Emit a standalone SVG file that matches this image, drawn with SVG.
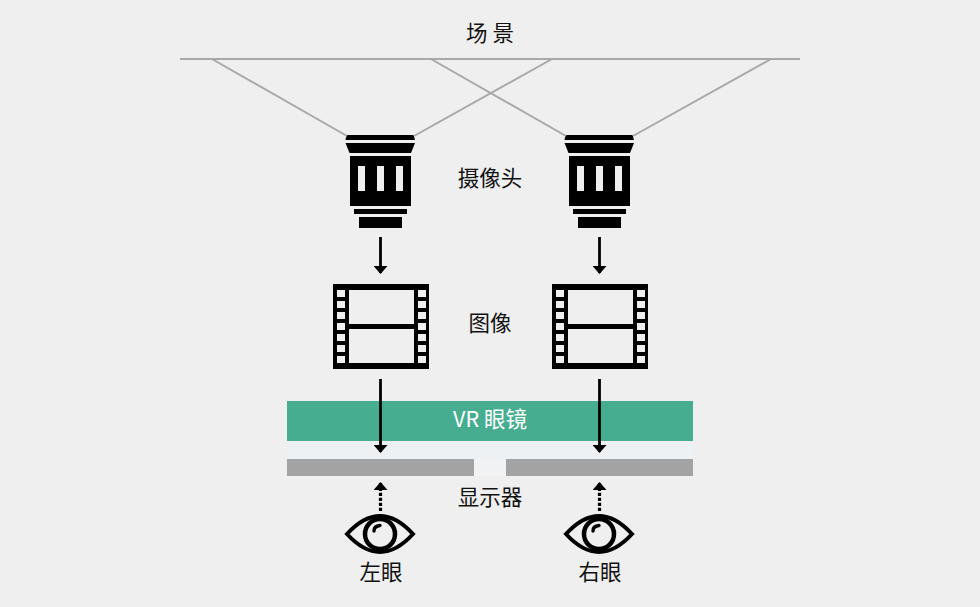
<svg xmlns="http://www.w3.org/2000/svg" xmlns:xlink="http://www.w3.org/1999/xlink" width="980" height="607" viewBox="0 0 980 607">
<style>
text{font-family:"Noto Sans CJK SC","Liberation Sans",sans-serif;font-size:21.500px;fill:#111;text-anchor:middle}
.ray{stroke:#a8a8a8;stroke-width:2;fill:none}
.arr{stroke:#000;stroke-width:2.800;fill:none;marker-end:url(#ah)}
.dot{stroke:#000;stroke-width:3.200;stroke-dasharray:3.300 1.700;fill:none;marker-end:url(#ah)}
</style>
<defs>
<g id="cam">
<path d="M-33.500 135H33.500L35 140H-34.500Z"/>
<path d="M-34.500 143H35L31 153H-30.500Z"/>
<path fill-rule="evenodd" d="M-30 156H31V206H-30ZM-22 166V191H-15V166ZM-3 166V191H4V166ZM16 166V191H23V166Z"/>
<rect x="-26" y="209" width="53" height="5"/>
<rect x="-21" y="217" width="43" height="11"/>
</g>
<g id="film">
<path fill-rule="evenodd" d="M-47 284H49V369H-47ZM-31 290V324H34V290ZM-31 329V363H34V329ZM-43 290V297H-35V290ZM-43 301V308H-35V301ZM-43 312V319H-35V312ZM-43 323V330H-35V323ZM-43 334V341H-35V334ZM-43 345V352H-35V345ZM-43 356V363H-35V356ZM38 290V297H46V290ZM38 301V308H46V301ZM38 312V319H46V312ZM38 323V330H46V323ZM38 334V341H46V334ZM38 345V352H46V345ZM38 356V363H46V356Z"/>
</g>
<g id="eye">
<path d="M-33 0C-22 -12 -11 -18 0 -18C11 -18 22 -12 33 0C22 12 11 18 0 18C-11 18 -22 12 -33 0Z" fill="none" stroke="#000" stroke-width="4"/>
<circle r="15" fill="none" stroke="#000" stroke-width="4.500"/>
<path d="M-6 -3Q-6 -8 0 -8.500" fill="none" stroke="#000" stroke-width="3.400" stroke-linecap="round"/>
</g>
<marker id="ah" viewBox="0 0 8 14" refX="7" refY="7" markerWidth="8" markerHeight="14" markerUnits="userSpaceOnUse" orient="auto"><path d="M0 0L8 7L0 14Z"/></marker>
</defs>
<rect width="980" height="607" fill="#efefef"/>
<rect x="287" y="441" width="406" height="18" fill="#eef1f4"/>
<rect x="474" y="459" width="32" height="17" fill="#f1f2f3"/>
<g id="scene"><text x="490" y="41">场 景</text><path d="M180 59H800" class="ray"/></g>
<g id="vr-glasses"><rect x="287" y="401" width="406" height="40" fill="#46ad90"/><text x="490" y="427" style="fill:#fff">VR 眼镜</text></g>
<g id="display-left"><rect x="287" y="459" width="187" height="17" fill="#a3a3a3"/></g>
<g id="display-right"><rect x="506" y="459" width="187" height="17" fill="#a3a3a3"/></g>
<g id="display-label"><text x="490" y="505">显示器</text></g>
<g id="camera-left"><use xlink:href="#cam" href="#cam" x="380"/></g>
<g id="camera-right"><use xlink:href="#cam" href="#cam" x="599"/></g>
<g id="camera-label"><text x="490" y="186">摄像头</text></g>
<g id="image-left"><use xlink:href="#film" href="#film" x="380"/></g>
<g id="image-right"><use xlink:href="#film" href="#film" x="599"/></g>
<g id="image-label"><text x="490" y="331">图像</text></g>
<g id="eye-left"><use xlink:href="#eye" href="#eye" x="380" y="534"/><text x="381" y="580">左眼</text></g>
<g id="eye-right"><use xlink:href="#eye" href="#eye" x="599" y="534"/><text x="600" y="580">右眼</text></g>
<g id="connectors">
<path d="M212 59L347 136M552 59L414 136M431 59L566 136M771 59L633 136" class="ray"/>
<path d="M380.500 237V273" class="arr"/>
<path d="M599.500 237V273" class="arr"/>
<path d="M380.500 379V452" class="arr"/>
<path d="M599.500 379V452" class="arr"/>
<path d="M380.500 511V483" class="dot"/>
<path d="M599.500 511V483" class="dot"/>
</g>
</svg>
